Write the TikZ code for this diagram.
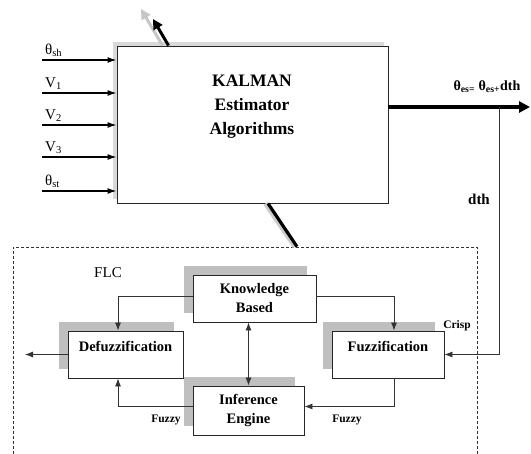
\documentclass[tikz,border=0pt]{standalone}
\usepackage{fontspec}
\setmainfont{Liberation Serif}
\usetikzlibrary{shadows,arrows.meta}

\newcommand{\fs}[2]{\fontsize{#1}{#2}\selectfont}

\begin{document}
\begin{tikzpicture}[x=1pt,y=-1pt]
        \tikzstyle{every node}=[inner sep=0pt]
        \tikzstyle{block}=[draw=black!85,fill=white,line width=0.9pt,align=center,font=\bfseries\fs{14.5}{19}]
        \tikzstyle{shade}=[drop shadow={shadow xshift=-9pt,shadow yshift=9pt,fill=gray!50,opacity=1}]
        \tikzstyle{link}=[draw=black!80,line width=0.8pt,-{Latex[length=8pt,width=6pt]}]
        \tikzstyle{feed}=[line width=1.3pt,-{Latex[length=9pt,width=6pt]}]
        \tikzstyle{tag}=[font=\bfseries\fs{11.5}{13}]
        \tikzstyle{signal}=[anchor=south west,font=\fs{15}{17}]
        \useasboundingbox (0,0) rectangle (531,454);
        \clip (0,0) rectangle (531,454);

        % FLC frame
        \node[draw=black!80,dashed,dash pattern=on 3pt off 2pt,line width=0.7pt,minimum width=464pt,minimum height=223pt] (flc) at (245,358.5) {};
        \node[font=\fs{15}{17}] (flctag) at (108,273) {FLC};

        % estimator
        \node[draw=black!85,fill=white,line width=0.9pt,minimum width=271pt,minimum height=157pt,
              drop shadow={shadow xshift=-4pt,shadow yshift=4pt,fill=gray!30,opacity=1}] (kalman) at (252.5,124.5) {};
        \node[align=center,font=\bfseries\fs{17.5}{24}] (kalmantext) at (252,107) {KALMAN\\Estimator\\Algorithms};

        \foreach \y/\txt in {60/θ\textsubscript{sh},93/V\textsubscript{1},125/V\textsubscript{2},157/V\textsubscript{3},191/θ\textsubscript{st}} {
            \coordinate (in) at (42,\y);
            \draw[feed] (in) -- (in -| kalman.west);
            \node[signal] at ([xshift=3pt,yshift=3pt]in) {\txt};
        }

        \coordinate (up) at (153,19);
        \coordinate (upshade) at (141,9);
        \draw[line width=3pt,gray!45,-{Triangle[length=10pt,width=10pt]}] ([xshift=-90pt]kalman.north) -- (upshade);
        \draw[line width=3pt,-{Triangle[length=10pt,width=10pt]}] ([xshift=-84pt]kalman.north) -- (up);

        \draw[line width=5pt,gray!40] ([xshift=13pt]kalman.south) -- ([xshift=50pt]flc.north);
        \draw[line width=3.2pt] ([xshift=15.5pt]kalman.south) -- ([xshift=52pt]flc.north);

        \coordinate (est) at (530,107);
        \coordinate (tap) at (499,107);
        \draw[line width=3.2pt,-{Triangle[length=11pt,width=11pt]}] ([yshift=17.5pt]kalman.east) -- (est);
        \node[font=\bfseries\fs{14}{16}] (estlabel) at (487,87) {θ\textsubscript{es=} θ\textsubscript{es+}dth};
        \node[font=\bfseries\fs{15}{17}] (dthlabel) at (479,199) {dth};

        % FLC blocks
        \node[block,shade,minimum width=123pt,minimum height=47pt] (know) at (254.5,298.5) {Knowledge\\Based};
        \node[block,shade,minimum width=115pt,minimum height=47pt,text height=10pt,text depth=15pt] (defuz) at (125.5,354.5) {Defuzzification};
        \node[block,shade,minimum width=112pt,minimum height=47pt,text height=10pt,text depth=15pt] (fuzz) at (388,354.5) {Fuzzification};
        \node[block,shade,minimum width=111pt,minimum height=49pt] (infer) at (248.5,410.5) {Inference\\Engine};

        \draw[link] ([yshift=2.5pt]know.west) -| ([xshift=-7.5pt]defuz.north);
        \draw[link] ([yshift=2.5pt]know.east) -| ([xshift=6pt]fuzz.north);
        \draw[link,{Latex[length=8pt,width=6pt]}-{Latex[length=8pt,width=6pt]}] (infer.north) -- (infer.north |- know.south);
        \draw[link] ([xshift=6pt]fuzz.south) |- ([yshift=4pt]infer.east);
        \draw[link] ([yshift=4pt]infer.west) -| ([xshift=-7.5pt]defuz.south);
        \coordinate (out) at (25,354.5);
        \draw[link] (defuz.west) -- (out);
        \draw[link] (tap) |- (fuzz.east);

        \node[tag] (crisp) at (457,326) {Crisp};
        \node[tag] (fuzzyr) at (347,420) {Fuzzy};
        \node[tag] (fuzzyl) at (166,420) {Fuzzy};
    \end{tikzpicture}
\end{document}
